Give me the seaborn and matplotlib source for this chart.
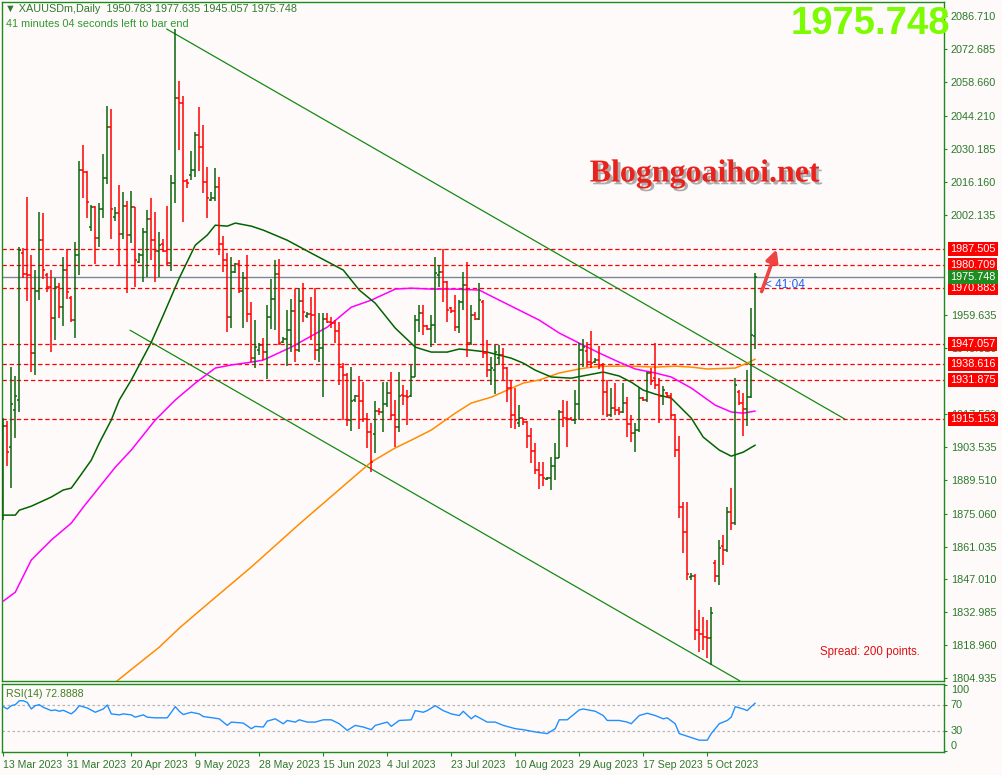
import numpy as np
import pandas as pd
import matplotlib
matplotlib.use("Agg")
import matplotlib.pyplot as plt
import matplotlib.patheffects as pe
from matplotlib.transforms import blended_transform_factory
import seaborn as sns

# ---------------- data ----------------
opens = [1880.8, 1912.3, 1903.4, 1919.1, 1923.4, 1985.9, 1977.0, 1976.6, 1943.4, 1969.8,
         1991.4, 1976.6, 1971.6, 1958.1, 1971.6, 1963.1, 1978.7, 1966.8, 1957.4, 1985.1,
         2021.5, 2020.5, 1997.1, 2005.6, 1992.2, 2004.7, 2018.1, 2039.4, 2001.4, 2002.8,
         1994.0, 2005.9, 1993.6, 2005.5, 1982.0, 1985.1, 1995.0, 2000.4, 1991.4, 1986.8,
         1989.8, 1986.8, 1981.5, 2015.6, 2052.0, 2049.6, 2016.6, 2019.1, 2021.2, 2036.2,
         2031.2, 2016.3, 2008.5, 2009.2, 2014.1, 1989.6, 1982.9, 1958.6, 1978.0, 1981.2,
         1969.9, 1975.2, 1959.9, 1941.1, 1944.6, 1946.8, 1943.9, 1958.6, 1966.2, 1977.0,
         1948.1, 1949.3, 1953.1, 1961.4, 1944.6, 1965.5, 1959.1, 1959.9, 1959.5, 1944.6,
         1945.6, 1957.8, 1956.7, 1956.3, 1952.7, 1937.3, 1934.0, 1914.9, 1923.4, 1925.1,
         1922.9, 1915.3, 1909.9, 1908.9, 1918.8, 1918.3, 1921.7, 1926.2, 1917.0, 1911.8,
         1925.5, 1925.1, 1925.1, 1933.3, 1957.4, 1960.5, 1954.9, 1953.6, 1955.3, 1976.6,
         1977.8, 1973.7, 1962.5, 1961.2, 1954.3, 1965.2, 1972.3, 1947.5, 1959.5, 1957.8,
         1965.0, 1943.2, 1936.1, 1936.1, 1941.2, 1942.5, 1937.1, 1928.3, 1917.0, 1913.4,
         1915.7, 1914.0, 1908.0, 1901.7, 1893.6, 1891.4, 1889.7, 1890.2, 1895.4, 1898.8,
         1918.3, 1915.7, 1915.3, 1914.9, 1921.7, 1944.6, 1944.3, 1939.7, 1939.5, 1940.4,
         1938.3, 1926.9, 1917.0, 1919.8, 1919.1, 1918.3, 1922.2, 1913.2, 1909.4, 1910.6,
         1924.2, 1923.4, 1934.7, 1932.7, 1929.7, 1925.1, 1926.3, 1925.1, 1917.0, 1902.1,
         1878.0, 1867.1, 1848.0, 1848.5, 1825.5, 1823.6, 1822.6, 1822.1, 1854.1, 1848.5,
         1861.2, 1859.5, 1875.8, 1871.0, 1926.9, 1922.1, 1919.4, 1924.8, 1950.783]
highs = [1915.7, 1914.4, 1937.5, 1933.7, 1988.6, 1988.1, 2009.9, 1985.1, 1978.7, 2003.5,
         2002.8, 1977.3, 1978.7, 1975.2, 1973.3, 1984.4, 1987.5, 1967.6, 1990.6, 2025.2,
         2031.9, 2020.8, 2006.4, 2005.9, 2007.3, 2028.1, 2048.6, 2047.2, 2005.4, 2014.9,
         2012.0, 2008.2, 2012.5, 2005.6, 1985.8, 1996.7, 2004.2, 2009.5, 2003.5, 1994.7,
         1991.8, 2005.9, 2019.1, 2081.3, 2059.1, 2052.9, 2017.4, 2029.4, 2037.6, 2048.2,
         2040.4, 2022.7, 2012.0, 2022.0, 2018.4, 1993.3, 1986.0, 1984.4, 1981.8, 1982.9,
         1978.0, 1985.1, 1965.2, 1957.4, 1947.5, 1949.6, 1963.8, 1974.7, 1982.9, 1983.4,
         1950.3, 1961.7, 1966.2, 1970.5, 1970.9, 1973.0, 1960.9, 1967.3, 1970.9, 1960.3,
         1960.5, 1960.5, 1958.8, 1957.4, 1956.7, 1939.0, 1934.7, 1937.5, 1925.5, 1933.6,
         1931.2, 1917.7, 1913.4, 1922.9, 1919.8, 1931.2, 1931.2, 1935.4, 1923.4, 1935.4,
         1929.7, 1927.6, 1938.3, 1959.5, 1963.8, 1963.8, 1955.3, 1959.5, 1984.4, 1980.8,
         1987.5, 1974.1, 1963.1, 1968.1, 1965.9, 1978.0, 1982.2, 1963.8, 1960.9, 1973.0,
         1966.0, 1948.9, 1941.8, 1946.8, 1946.8, 1945.4, 1937.5, 1931.9, 1928.3, 1921.2,
         1915.8, 1914.5, 1911.4, 1905.1, 1897.1, 1897.1, 1890.7, 1899.2, 1904.9, 1919.1,
         1923.4, 1922.9, 1916.3, 1927.6, 1947.5, 1949.2, 1948.2, 1952.7, 1941.1, 1946.3,
         1939.0, 1931.9, 1928.3, 1930.5, 1920.5, 1930.7, 1924.5, 1917.0, 1913.4, 1929.0,
         1924.8, 1935.4, 1937.1, 1947.5, 1932.6, 1929.3, 1926.9, 1926.5, 1917.5, 1908.1,
         1880.1, 1880.1, 1849.6, 1849.3, 1834.0, 1831.1, 1829.7, 1835.4, 1855.3, 1863.8,
         1865.9, 1878.0, 1885.8, 1932.6, 1927.6, 1926.2, 1936.1, 1962.4, 1977.635]
lows = [1872.3, 1895.3, 1885.9, 1907.3, 1918.4, 1975.3, 1965.6, 1935.4, 1934.0, 1965.9,
        1974.7, 1969.2, 1943.9, 1948.9, 1958.4, 1954.9, 1966.4, 1956.7, 1949.6, 1976.6,
        2009.5, 2000.7, 1995.4, 1981.3, 1988.6, 2000.7, 2015.2, 1991.9, 1999.5, 1980.8,
        1991.9, 1969.0, 1990.1, 1971.6, 1981.5, 1973.7, 1975.9, 1982.9, 1973.7, 1975.9,
        1986.5, 1980.8, 1978.3, 2007.3, 2029.8, 1999.2, 2013.7, 2017.0, 2018.4, 2020.8,
        2011.3, 2000.7, 2008.1, 2008.1, 1985.1, 1978.0, 1952.4, 1953.9, 1977.3, 1968.8,
        1954.1, 1956.7, 1939.7, 1936.9, 1942.5, 1940.4, 1932.2, 1953.5, 1953.1, 1946.8,
        1947.5, 1937.8, 1943.9, 1939.7, 1943.9, 1956.7, 1958.1, 1948.9, 1940.4, 1939.7,
        1924.8, 1956.0, 1953.9, 1947.5, 1929.7, 1914.9, 1912.3, 1910.3, 1922.6, 1910.9,
        1914.1, 1902.8, 1892.9, 1900.7, 1917.0, 1909.9, 1920.5, 1914.9, 1903.5, 1909.9,
        1921.2, 1912.7, 1924.8, 1933.0, 1952.4, 1951.0, 1953.1, 1946.0, 1947.5, 1971.6,
        1965.2, 1956.7, 1960.3, 1952.9, 1952.0, 1961.7, 1941.8, 1946.8, 1957.4, 1957.4,
        1941.1, 1933.3, 1929.7, 1925.9, 1938.3, 1931.9, 1922.6, 1911.3, 1910.9, 1912.0,
        1912.7, 1902.8, 1896.5, 1891.9, 1885.4, 1886.9, 1889.3, 1885.1, 1889.3, 1898.6,
        1911.9, 1903.5, 1914.9, 1913.2, 1914.9, 1937.5, 1937.5, 1936.9, 1939.0, 1936.4,
        1917.0, 1916.3, 1916.3, 1917.0, 1917.0, 1917.8, 1907.5, 1905.6, 1901.1, 1909.8,
        1922.9, 1922.6, 1929.7, 1927.9, 1913.7, 1921.2, 1924.1, 1914.9, 1899.2, 1873.0,
        1858.1, 1846.8, 1846.8, 1821.2, 1816.3, 1817.0, 1813.4, 1810.6, 1846.0, 1844.6,
        1853.1, 1858.8, 1868.0, 1870.2, 1921.2, 1908.1, 1912.3, 1924.1, 1945.057]
closes = [1912.3, 1901.2, 1921.7, 1925.0, 1987.2, 1977.0, 1976.6, 1943.4, 1969.8, 1991.4,
          1978.7, 1971.6, 1958.1, 1971.6, 1963.1, 1978.7, 1969.2, 1957.4, 1985.1, 2021.5,
          2020.5, 2007.8, 2005.6, 1992.2, 2004.7, 2018.1, 2039.4, 2004.7, 2002.8, 1994.0,
          2005.9, 1993.6, 2005.4, 1982.9, 1985.1, 1994.7, 2000.4, 1991.4, 1986.8, 1989.3,
          1986.8, 1981.5, 2015.6, 2052.0, 2049.6, 2016.6, 2015.7, 2021.2, 2036.2, 2031.2,
          2016.3, 2009.2, 2009.2, 2014.1, 1989.6, 1982.9, 1958.6, 1978.0, 1981.1, 1969.9,
          1975.2, 1959.9, 1941.1, 1946.0, 1946.8, 1943.9, 1958.6, 1966.2, 1977.0, 1947.5,
          1949.3, 1953.1, 1961.4, 1944.6, 1965.5, 1960.9, 1959.9, 1959.5, 1944.6, 1945.6,
          1957.8, 1956.7, 1956.3, 1952.7, 1937.3, 1934.0, 1914.9, 1922.9, 1925.1, 1922.9,
          1915.3, 1909.9, 1897.1, 1918.8, 1918.1, 1921.7, 1926.2, 1917.0, 1911.8, 1925.1,
          1925.1, 1924.6, 1933.3, 1957.4, 1960.5, 1954.9, 1953.6, 1955.3, 1977.3, 1977.8,
          1973.7, 1961.7, 1961.2, 1954.3, 1965.2, 1972.3, 1947.5, 1959.5, 1957.8, 1965.9,
          1943.2, 1936.1, 1937.0, 1943.8, 1942.5, 1937.1, 1928.3, 1917.0, 1914.9, 1915.7,
          1914.0, 1908.0, 1901.7, 1893.6, 1891.4, 1890.0, 1890.2, 1895.4, 1898.8, 1918.4,
          1915.7, 1915.3, 1914.9, 1921.7, 1944.6, 1946.0, 1939.7, 1939.3, 1940.4, 1938.3,
          1926.9, 1917.0, 1919.8, 1919.1, 1918.3, 1922.2, 1913.2, 1909.4, 1910.6, 1924.4,
          1923.4, 1934.7, 1931.6, 1929.7, 1925.1, 1927.6, 1925.1, 1917.0, 1902.1, 1878.0,
          1867.1, 1849.3, 1848.5, 1825.5, 1823.6, 1822.6, 1822.2, 1832.8, 1848.5, 1860.3,
          1859.5, 1875.8, 1871.0, 1929.7, 1922.1, 1919.4, 1924.8, 1951.0, 1975.748]

ma_green_bar = [0, 3, 4, 7, 12, 15, 17, 19, 22, 24, 27, 29, 32, 37, 40, 44, 48, 51, 53, 56,
                58, 62, 65, 71, 77, 85, 89, 93, 98, 103, 107, 111, 114, 117, 121, 124, 127, 130, 133, 137,
                142, 150, 154, 157, 160, 163, 167, 172, 175, 179, 182, 185, 188]
ma_green_val = [1874.4, 1874.4, 1876.5, 1878.2, 1882.1, 1885.1, 1885.9, 1890.6, 1897.8, 1905.1,
                1914.9, 1923.4, 1931.9, 1948.0, 1959.5, 1975.3, 1989.3, 1993.6, 1997.8, 1997.4,
                1998.7, 1997.4, 1995.7, 1991.4, 1985.9, 1978.7, 1970.2, 1964.6, 1954.0, 1945.9,
                1943.8, 1943.8, 1945.1, 1944.6, 1943.8, 1942.5, 1941.2, 1939.1, 1936.1, 1933.2,
                1932.7, 1935.3, 1933.6, 1931.0, 1927.6, 1925.9, 1924.2, 1915.7, 1907.6, 1902.1,
                1899.5, 1901.2, 1904.2]
ma_magenta_bar = [0, 3, 7, 12, 17, 20, 24, 28, 32, 38, 43, 48, 53, 57, 62, 65, 72, 81, 87, 92,
                  98, 102, 107, 113, 119, 122, 126, 130, 134, 139, 144, 149, 154, 158, 163, 167, 172, 178, 182, 185,
                  188]
ma_magenta_val = [1837.8, 1841.6, 1855.3, 1863.8, 1871.0, 1877.8, 1886.3, 1894.8, 1902.1, 1914.9,
                  1923.4, 1930.6, 1937.0, 1938.3, 1939.5, 1940.4, 1945.9, 1954.4, 1962.9, 1965.9,
                  1970.6, 1971.0, 1970.6, 1970.6, 1970.2, 1967.6, 1964.2, 1960.8, 1957.4, 1951.9,
                  1947.6, 1943.4, 1939.5, 1936.6, 1934.9, 1933.2, 1928.5, 1921.2, 1918.3, 1917.8,
                  1918.7]
ma_orange_bar = [24, 29, 34, 39, 44, 49, 62, 74, 87, 92, 98, 102, 107, 113, 117, 122, 126, 130, 134, 139,
                 144, 147, 151, 157, 163, 168, 172, 176, 183, 186, 188]
ma_orange_val = [1797.8, 1804.6, 1811.4, 1818.2, 1826.3, 1833.6, 1852.3, 1870.6, 1889.7, 1897.0,
                 1903.0, 1906.3, 1910.6, 1917.8, 1922.1, 1924.6, 1927.6, 1930.6, 1931.9, 1934.9,
                 1936.6, 1937.4, 1937.8, 1937.8, 1937.4, 1937.8, 1937.4, 1936.6, 1937.0, 1939.1,
                 1940.8]

rsi_bar = [0, 1, 2, 3, 4, 5, 6, 7, 8, 9, 10, 12, 13, 14, 15, 17, 18, 19, 21, 23,
           25, 26, 27, 29, 30, 32, 33, 35, 36, 38, 41, 42, 43, 44, 45, 47, 49, 50, 54, 56,
           57, 60, 62, 63, 65, 66, 68, 70, 71, 73, 74, 76, 78, 80, 82, 84, 86, 88, 90, 92,
           93, 96, 97, 99, 102, 103, 105, 106, 108, 110, 112, 114, 115, 117, 118, 121, 123, 125, 128, 130,
           133, 136, 138, 139, 141, 144, 145, 148, 150, 151, 154, 156, 157, 159, 161, 163, 165, 166, 168, 169,
           172, 174, 176, 177, 179, 181, 182, 183, 185, 186, 187, 188]
rsi_val = [67.5, 64, 69, 70.5, 76.5, 76.5, 74, 64, 69, 70.5, 66.5, 61.5, 62.5, 60.5, 62, 56.5, 61.5, 69, 65.5, 59,
           64, 70, 56.5, 55, 56.5, 55, 51.5, 55, 51.5, 50.5, 50.5, 59, 67.5, 60.5, 55.5, 59, 56.5, 52.5, 49, 39,
           44, 42.5, 34, 37.5, 36.5, 45.5, 49, 41.5, 46.5, 44, 47.5, 44, 44, 47.5, 47.5, 41.5, 31.5, 39, 36.5, 32.5,
           39, 44, 37.5, 46.5, 47.5, 61.5, 59, 61.5, 69, 61.5, 56.5, 54, 60.5, 49, 54, 44, 44, 39, 34, 32.5,
           29, 26.5, 34, 47.5, 47.5, 62.5, 64, 60.5, 54, 46.5, 46.5, 44, 41.5, 54, 57.5, 54, 49, 50.5, 41.5, 26.5,
           20.5, 16.5, 16.5, 26.5, 41.5, 46.5, 51.5, 67.5, 64, 61.5, 67.5, 72.9]

level_values = [1987.505, 1980.709, 1970.883, 1947.057, 1938.616, 1931.875, 1915.153]
bid_value = 1975.748
price_tick_labels = ["2086.710", "2072.685", "2058.660", "2044.210", "2030.185", "2016.160",
                     "2002.135", "1959.635", "1945.610", "1917.560", "1903.535", "1889.510",
                     "1875.060", "1861.035", "1847.010", "1832.985", "1818.960", "1804.935"]
date_labels = ["13 Mar 2023", "31 Mar 2023", "20 Apr 2023", "9 May 2023", "28 May 2023",
               "15 Jun 2023", "4 Jul 2023", "23 Jul 2023", "10 Aug 2023", "29 Aug 2023",
               "17 Sep 2023", "5 Oct 2023"]
date_label_step = 16
rsi_tick_values = [100, 70, 30, 0]
rsi_levels = [70, 30]
trend_upper_bar = [40.85, 210.4]
trend_upper_val = [2081.3, 1915.3]
trend_lower_bar = [31.7, 184.2]
trend_lower_val = [1953.1, 1803.8]

# ---------------- style ----------------
sns.set_theme(style="white")
plt.rcParams["font.family"] = ["Liberation Sans", "DejaVu Sans"]

BG = "#FFFAFA"
FRAME = "#1C8A1C"
TXT = "#2B7A2B"
UP = "#0A640A"
DOWN = "#FF0000"

W, H = 1003.0, 775.0
fig = plt.figure(figsize=(W / 100, H / 100), dpi=100, facecolor=BG)


def px_rect(x0, y0, x1, y1):
    return [x0 / W, 1 - y1 / H, (x1 - x0) / W, (y1 - y0) / H]


ax = fig.add_axes(px_rect(2, 2, 944, 681), facecolor=BG)
axr = fig.add_axes(px_rect(2, 684, 944, 752), facecolor=BG)

n = len(closes)
bars = pd.DataFrame({"bar": np.arange(n), "open": opens, "high": highs,
                     "low": lows, "close": closes})
bar_colors = np.where(bars["close"] >= bars["open"], UP, DOWN)

# levels
for v in level_values:
    ax.axhline(v, color="#FF0000", lw=0.9, ls=(0, (3.5, 2.2)), zorder=2)
ax.axhline(bid_value, color="#778899", lw=1.0, zorder=2)

# trend lines
ax.plot(trend_upper_bar, trend_upper_val, color="#138A13", lw=0.9, zorder=2)
ax.plot(trend_lower_bar, trend_lower_val, color="#138A13", lw=0.9, zorder=2)

# moving averages
sns.lineplot(x=ma_orange_bar, y=ma_orange_val, ax=ax, color="#FF8C00", lw=1.1, zorder=3)
sns.lineplot(x=ma_magenta_bar, y=ma_magenta_val, ax=ax, color="#FF00FF", lw=1.1, zorder=3)
sns.lineplot(x=ma_green_bar, y=ma_green_val, ax=ax, color="#006400", lw=1.1, zorder=3)

# OHLC bars
ax.vlines(bars["bar"], bars["low"], bars["high"], colors=bar_colors, lw=1.1, zorder=4)
ax.hlines(bars["open"], bars["bar"] - 0.5, bars["bar"], colors=bar_colors, lw=1.1, zorder=4)
ax.hlines(bars["close"], bars["bar"], bars["bar"] + 0.5, colors=bar_colors, lw=1.1, zorder=4)

ax.set_xlim(-0.325, 235.2)
ax.set_ylim(1803.8, 2092.8)
ax.set_xlabel("")
ax.set_ylabel("")
ax.tick_params(axis="x", bottom=False, labelbottom=False)
ax.yaxis.tick_right()
ax.set_yticks([float(s) for s in price_tick_labels])
ax.set_yticklabels(price_tick_labels)
ax.tick_params(axis="y", right=True, left=False, colors=FRAME, labelcolor=TXT,
               labelsize=7.8, length=2.5, width=0.8, pad=2.5, direction="out")
for s in ax.spines.values():
    s.set_color(FRAME)
    s.set_linewidth(1.0)

# right-side price boxes
trans = blended_transform_factory(ax.transAxes, ax.transData)
for v in level_values:
    ax.text(1.0066, v, f"{v:.3f}", transform=trans, ha="left", va="center",
            color="white", fontsize=7.8, zorder=10, clip_on=False,
            bbox=dict(boxstyle="square,pad=0.18", fc="#FF0000", ec="none"))
ax.text(1.0066, bid_value, f"{bid_value:.3f}", transform=trans, ha="left", va="center",
        color="white", fontsize=7.8, zorder=11, clip_on=False,
        bbox=dict(boxstyle="square,pad=0.18", fc="#1E8C1E", ec="none"))

# timer text and arrow near last bar
ax.text(n + 1.4, closes[-1] - 3.4, "< 41:04", color="#2060F0", fontsize=8.5,
        va="center", ha="left", zorder=6)
ax.annotate("", xy=(n + 4.35, level_values[0]), xytext=(n + 0.6, closes[-1] - 6.2),
            arrowprops=dict(arrowstyle="-|>,head_width=0.3,head_length=0.6",
                            color="#EE4444", lw=2.6, shrinkA=0, shrinkB=0,
                            path_effects=[pe.SimplePatchShadow(offset=(1.5, -1.5),
                                                               shadow_rgbFace="#888888", alpha=0.5),
                                          pe.Normal()]),
            zorder=7)

ax.text(0.868, 0.043, "Spread: 200 points.", transform=ax.transAxes, color="#DD1111",
        fontsize=8.3, ha="left", va="center")

# ---------------- RSI panel ----------------
for lv in rsi_levels:
    axr.axhline(lv, color="#B4B4B4", lw=0.9, ls=(0, (2, 2)), zorder=1)
sns.lineplot(x=rsi_bar, y=rsi_val, ax=axr, color="#1E90FF", lw=1.0, zorder=3)
axr.set_xlim(-0.325, 235.2)
axr.set_ylim(-1.5, 102)
axr.set_xlabel("")
axr.set_ylabel("")
axr.yaxis.tick_right()
axr.set_yticks(rsi_tick_values)
axr.set_yticklabels([str(v) for v in rsi_tick_values])
for lbl, va in zip(axr.get_yticklabels(), ["top", "center", "center", "bottom"]):
    lbl.set_verticalalignment(va)
axr.tick_params(axis="y", right=True, left=False, colors=FRAME, labelcolor=TXT,
                labelsize=7.8, length=2.5, width=0.8, pad=2.5, direction="out")
date_positions = list(range(0, date_label_step * len(date_labels), date_label_step))
axr.set_xticks(date_positions)
axr.set_xticklabels(date_labels, ha="left")
axr.tick_params(axis="x", bottom=True, colors=FRAME, labelcolor=TXT, labelsize=7.6,
                length=3, width=0.8, pad=2.5, direction="out")
for s in axr.spines.values():
    s.set_color(FRAME)
    s.set_linewidth(1.0)
axr.text(0.004, 0.93, "RSI(14) 72.8888", transform=axr.transAxes, color="#3F7F1F",
         fontsize=7.6, va="top", ha="left")

# ---------------- header / watermarks ----------------
fig.text(5 / W, 1 - 9 / H, "\u25BC XAUUSDm,Daily  1950.783 1977.635 1945.057 1975.748",
         color="#2F7A2F", fontsize=7.8, va="center", ha="left")
fig.text(6 / W, 1 - 24 / H, "41 minutes 04 seconds left to bar end",
         color="#2E9A2E", fontsize=7.8, va="center", ha="left")
fig.text(950 / W, 1 - 24 / H, f"{bid_value:.3f}", color="#7CFC00", fontsize=27.5,
         fontweight="bold", family=["Liberation Sans", "DejaVu Sans"], ha="right", va="center")
fig.text(705 / W, 1 - 174 / H, "Blogngoaihoi.net", color="#E8231D", fontsize=23,
         fontweight="bold", family=["Liberation Serif", "DejaVu Serif"], ha="center", va="center",
         path_effects=[pe.SimplePatchShadow(offset=(2, -2), shadow_rgbFace="#777777", alpha=0.6),
                       pe.Normal()])

fig.savefig("out.png", dpi=100, facecolor=BG)
